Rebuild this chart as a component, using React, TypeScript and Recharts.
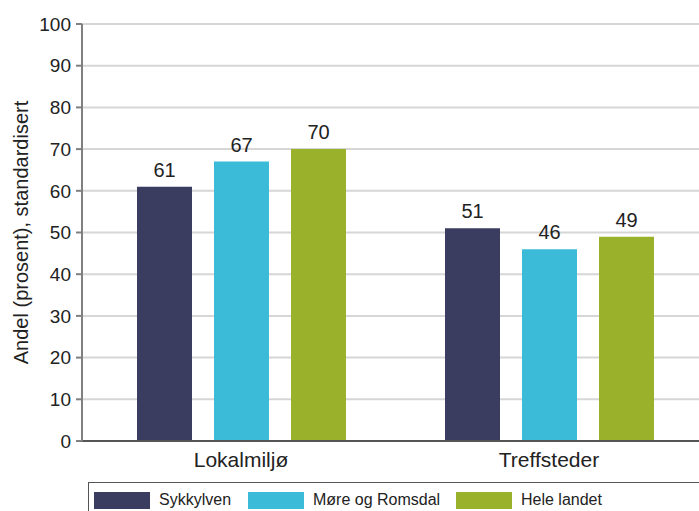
import React from "react";
import { BarChart, Bar, XAxis, YAxis, CartesianGrid, Legend, LabelList } from "recharts";

const categories = ["Lokalmiljø", "Treffsteder"];
const sykkylven = [61, 51];
const moreRomsdal = [67, 46];
const heleLandet = [70, 49];
const yTicks = [0, 10, 20, 30, 40, 50, 60, 70, 80, 90, 100];

const SERIES = [
    { key: "sykkylven", name: "Sykkylven", color: "#3a3c60" },
    { key: "more", name: "Møre og Romsdal", color: "#3bbbd8" },
    { key: "hele", name: "Hele landet", color: "#9ab22b" },
];

const FONT = "'Liberation Sans', Arial, sans-serif";

const data = categories.map((cat, i) => ({
    cat,
    sykkylven: sykkylven[i],
    more: moreRomsdal[i],
    hele: heleLandet[i],
}));

const LegendBox = () => (
    <div
        style={{
            position: "absolute",
            left: 88,
            top: 482,
            width: 640,
            height: 40,
            border: "1.5px solid #555",
            boxSizing: "border-box",
            fontFamily: FONT,
            fontSize: 16,
            color: "#222",
        }}
    >
        {SERIES.map((s, i) => (
            <div
                key={s.key}
                style={{
                    position: "absolute",
                    left: [5, 159, 367][i],
                    top: 8,
                    display: "flex",
                    alignItems: "center",
                    whiteSpace: "nowrap",
                }}
            >
                <span style={{ width: 56, height: 17, background: s.color, display: "inline-block", marginRight: 9 }} />
                <span>{s.name}</span>
            </div>
        ))}
    </div>
);

const App: React.FC = () => {
    return (
        <div style={{ position: "absolute", left: 0, top: 0, width: 699, height: 511, overflow: "hidden", background: "#fff" }}>
            <BarChart
                width={720}
                height={511}
                data={data}
                margin={{ top: 24, right: 17, bottom: 30, left: 0 }}
                barSize={55}
                barGap={22}
                style={{ fontFamily: FONT }}
            >
                <CartesianGrid vertical={false} stroke="#d6d6d6" strokeWidth={2} />
                <XAxis
                    dataKey="cat"
                    height={40}
                    padding={{ left: 5, right: 0 }}
                    tickLine={false}
                    axisLine={{ stroke: "#555", strokeWidth: 2 }}
                    tick={{ fontSize: 21, fill: "#222" }}
                    tickMargin={5}
                />
                <YAxis
                    width={82}
                    domain={[0, 100]}
                    ticks={yTicks}
                    interval={0}
                    tickLine={{ stroke: "#808080", strokeWidth: 2 }}
                    tickSize={6}
                    axisLine={{ stroke: "#808080", strokeWidth: 2 }}
                    tick={{ fontSize: 19, fill: "#222" }}
                    tickMargin={5}
                    label={{
                        value: "Andel (prosent), standardisert",
                        angle: -90,
                        position: "center",
                        dx: -20,
                        dy: 0,
                        style: { fontSize: 20, fill: "#222", textAnchor: "middle" },
                    }}
                />
                <Legend layout="horizontal" verticalAlign="middle" align="center" content={() => <LegendBox />} wrapperStyle={{ position: "absolute", left: 0, top: 0, width: 0, height: 0 }} />
                {SERIES.map((s) => (
                    <Bar key={s.key} dataKey={s.key} name={s.name} fill={s.color} isAnimationActive={false}>
                        <LabelList dataKey={s.key} position="top" offset={10} style={{ fontSize: 20, fill: "#222" }} />
                    </Bar>
                ))}
            </BarChart>
        </div>
    );
};

export default App;
